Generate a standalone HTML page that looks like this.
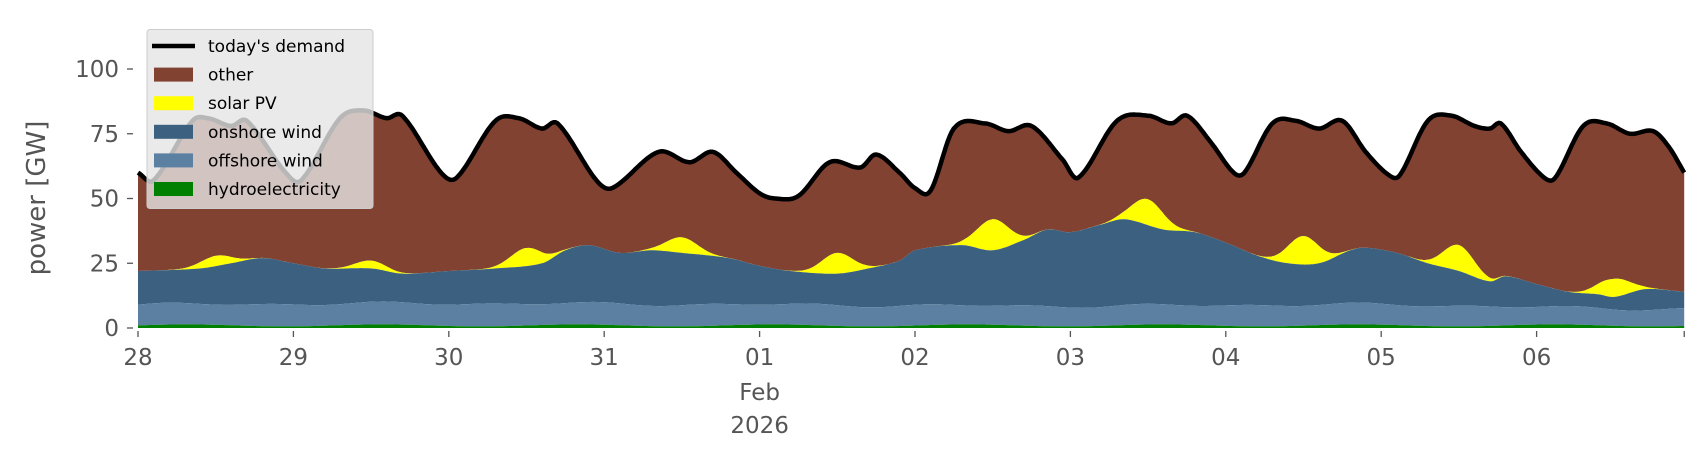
<!DOCTYPE html>
<html><head><meta charset="utf-8"><style>
body{margin:0;background:#fff;width:1706px;height:460px;overflow:hidden;font-family:"Liberation Sans","DejaVu Sans",sans-serif}
</style></head><body>
<svg id="s" width="1706" height="460" xmlns="http://www.w3.org/2000/svg" font-family="DejaVu Sans, Liberation Sans, sans-serif"></svg>
<script>
const X=t=>138+155.4*t, Y=v=>328-2.59*v;
function interp(pts,t){
  if(t<=pts[0][0])return pts[0][1];
  for(let i=0;i<pts.length-1;i++){const a=pts[i],b=pts[i+1];
    if(t<=b[0]){
      const p0=pts[Math.max(i-1,0)],p3=pts[Math.min(i+2,pts.length-1)];
      const f=(t-a[0])/(b[0]-a[0]);
      const m1=(b[1]-p0[1])/(b[0]-p0[0]||1)*(b[0]-a[0]);
      const m2=(p3[1]-a[1])/(p3[0]-a[0]||1)*(b[0]-a[0]);
      const f2=f*f,f3=f2*f;
      return (2*f3-3*f2+1)*a[1]+(f3-2*f2+f)*m1+(-2*f3+3*f2)*b[1]+(f3-f2)*m2;}}
  return pts[pts.length-1][1];
}
const dem=[[0,60],[0.1,57],[0.35,80],[0.45,81],[0.6,78],[0.7,80],[0.95,60],[1.05,57],[1.3,81],[1.45,84],[1.6,81],[1.7,82],[1.95,60],[2.05,58],[2.3,80],[2.45,81],[2.6,77],[2.7,79],[2.95,57],[3.05,54],[3.35,68],[3.55,64],[3.7,68],[3.85,60],[4.0,52],[4.1,50],[4.25,51],[4.45,64],[4.65,62],[4.75,67],[4.9,60],[5.0,54],[5.1,53],[5.25,77],[5.45,79],[5.6,76],[5.75,78],[5.95,65],[6.05,58],[6.3,80],[6.5,82],[6.65,79],[6.75,82],[6.9,72],[7.05,60],[7.12,60],[7.3,79],[7.45,80],[7.6,77],[7.75,80],[7.9,68],[8.05,59],[8.12,59],[8.3,80],[8.45,82],[8.6,78],[8.7,77],[8.77,79],[8.9,68],[9.05,58],[9.12,58],[9.3,78],[9.45,79],[9.6,75],[9.75,76],[9.85,70],[9.95,60]];
const wind=[[0,22],[0.4,23],[0.6,25],[0.8,27],[1.0,25],[1.2,23],[1.5,23],[1.7,21],[2.0,22],[2.3,23],[2.6,25],[2.75,30],[2.9,32],[3.1,29],[3.3,30],[3.5,29],[3.8,27],[4.0,24],[4.2,22],[4.5,21],[4.7,23],[4.9,26],[5.0,30],[5.3,32],[5.5,30],[5.7,34],[5.85,38],[6.0,37],[6.2,40],[6.35,42],[6.6,38],[6.8,37],[7.0,33],[7.2,28],[7.4,25],[7.6,25],[7.8,30],[7.9,31],[8.1,29],[8.3,25],[8.5,22],[8.7,18],[8.8,20],[9.0,17],[9.2,14],[9.4,13],[9.5,12],[9.7,15],[9.95,14]];
const sol=[4,3,7,6,8,12,10,11,10,7];
const off=[[0,8],[2,8.5],[4,8],[6,7.5],[8,8],[9.5,6.5],[9.95,6.5]];
const T0=0,T1=9.95,N=800;
let ts=[];for(let i=0;i<=N;i++)ts.push(T0+(T1-T0)*i/N);
const hy=t=>1+0.4*Math.sin(t*5);
const of=t=>hy(t)+interp(off,t)+0.4*Math.sin(t*9);
const wn=t=>interp(wind,t);
const sl=t=>{let s=0;for(let d=0;d<10;d++){const z=(t-d-0.5)/0.1;s+=sol[d]*Math.exp(-z*z/2);}return s;};
const so=t=>wn(t)+sl(t);
const de=t=>interp(dem,t);
function band(lo,hi,col){
  let p='M'+ts.map(t=>X(t).toFixed(1)+','+Y(hi(t)).toFixed(1)).join('L');
  p+='L'+ts.slice().reverse().map(t=>X(t).toFixed(1)+','+Y(lo(t)).toFixed(1)).join('L')+'Z';
  return `<path d="${p}" fill="${col}"/>`;
}
let h='';
h+=band(de,so,'#824232');
h+=band(so,wn,'#ffff00');
h+=band(of,wn,'#3b6080');
h+=band(hy,of,'#5b80a2');
h+=band(()=>0,hy,'#008000');
h+=`<path d="M${ts.map(t=>X(t).toFixed(1)+','+Y(de(t)).toFixed(1)).join('L')}" fill="none" stroke="#000" stroke-width="4.5" stroke-linejoin="round"/>`;
[0,25,50,75,100].forEach(v=>{const y=Y(v);h+=`<line x1="127" x2="133" y1="${y}" y2="${y}" stroke="#555" stroke-width="1.3"/><text x="119" y="${y+8}" font-size="23" fill="#555" text-anchor="end">${v}</text>`;});
h+=`<text transform="translate(45,198) rotate(-90)" font-size="26" fill="#555" text-anchor="middle">power [GW]</text>`;
const lab=['28','29','30','31','01','02','03','04','05','06'];
lab.forEach((l,i)=>{const x=X(i);h+=`<line x1="${x}" x2="${x}" y1="331" y2="337" stroke="#555" stroke-width="1.3"/><text x="${x}" y="365" font-size="23" fill="#555" text-anchor="middle">${l}</text>`;});
h+=`<text x="${X(4)}" y="400" font-size="23" fill="#555" text-anchor="middle">Feb</text><text x="${X(4)}" y="433" font-size="23" fill="#555" text-anchor="middle">2026</text>`;
h+=`<line x1="${X(9.95)}" x2="${X(9.95)}" y1="331" y2="337" stroke="#555" stroke-width="1.3"/>`;
h+=`<rect x="147" y="29.5" width="226" height="179" rx="3" fill="rgba(229,229,229,0.8)" stroke="#ccc"/>`;
const items=[['today\'s demand','line'],['other','#824232'],['solar PV','#ffff00'],['onshore wind','#3b6080'],['offshore wind','#5b80a2'],['hydroelectricity','#008000']];
items.forEach((it,i)=>{const y=46+i*28.6;
  if(it[1]=='line')h+=`<line x1="152" x2="195" y1="${y}" y2="${y}" stroke="#000" stroke-width="4.5"/>`;
  else h+=`<rect x="154" y="${y-7}" width="39" height="14" fill="${it[1]}"/>`;
  h+=`<text x="208" y="${y+6}" font-size="17" fill="#000">${it[0]}</text>`;});
document.getElementById('s').innerHTML=h;
</script>
</body></html>
